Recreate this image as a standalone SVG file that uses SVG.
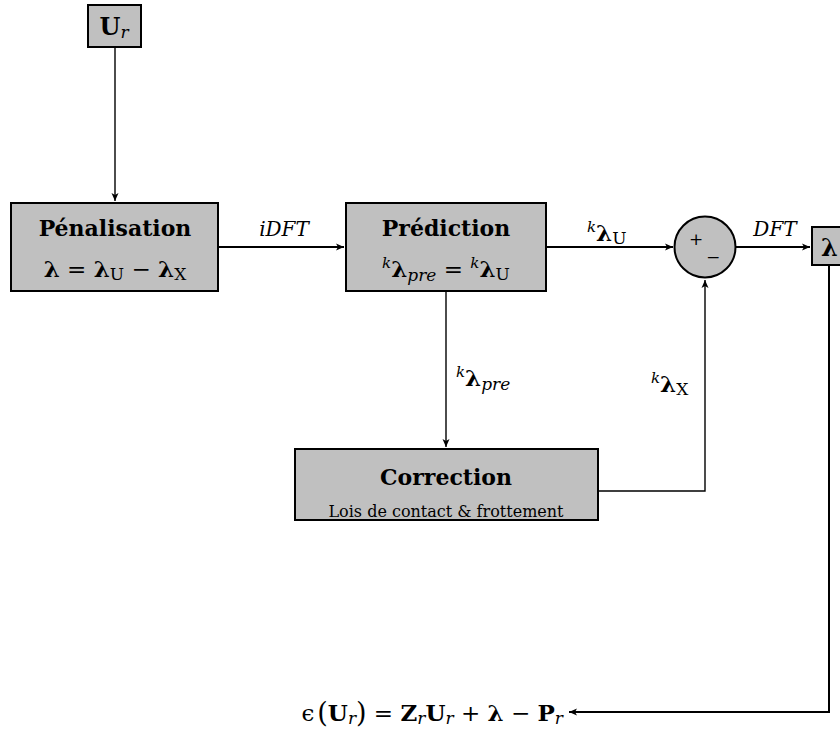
<svg xmlns="http://www.w3.org/2000/svg" width="840" height="729" viewBox="0 0 840 729">
<style>
.box{fill:#c0c0c0;stroke:#000;stroke-width:2}
.ln{fill:none;stroke:#000;stroke-width:2}
.lt{fill:none;stroke:#000;stroke-width:1.4}
text{font-family:"DejaVu Serif","Liberation Serif",serif;fill:#000}
.b{font-weight:bold}
.i{font-style:italic}
.t{font-size:22px;font-weight:bold}
.m{font-size:23px}
</style>
<defs>
<marker id="ar" markerWidth="10" markerHeight="8" refX="8" refY="4" orient="auto" markerUnits="userSpaceOnUse">
<path d="M0,0.5 L8,4 L0,7.5 L2,4 z" fill="#000"/>
</marker>
</defs>
<g id="connectors">
<line class="lt" x1="115" y1="47" x2="115" y2="201" marker-end="url(#ar)"/>
<line class="ln" x1="218" y1="247" x2="344" y2="247" marker-end="url(#ar)"/>
<line class="ln" x1="546" y1="247" x2="673" y2="247" marker-end="url(#ar)"/>
<line class="ln" x1="736" y1="247" x2="810" y2="247" marker-end="url(#ar)"/>
<line class="lt" x1="446" y1="291" x2="446" y2="447" marker-end="url(#ar)"/>
<polyline class="lt" points="598,491 705,491 705,280" marker-end="url(#ar)"/>
<polyline class="ln" points="829,265 829,712 569,712" marker-end="url(#ar)"/>
<text x="284" y="236" class="i" font-size="20" text-anchor="middle">iDFT</text>
<text x="587" y="241" font-size="23"><tspan font-size="15" dy="-9" font-style="italic">k</tspan><tspan class="b" dy="9">λ</tspan><tspan font-size="17" dy="3">U</tspan></text>
<text x="775" y="236" class="i" font-size="20" text-anchor="middle">DFT</text>
<text x="456" y="386" font-size="23"><tspan font-size="15" dy="-9" font-style="italic">k</tspan><tspan class="b" dy="9">λ</tspan><tspan font-size="17" dy="4" font-style="italic">pre</tspan></text>
<text x="651" y="392" font-size="23"><tspan font-size="15" dy="-9" font-style="italic">k</tspan><tspan class="b" dy="9">λ</tspan><tspan font-size="17" dy="3">X</tspan></text>
</g>
<g id="Ur">
<rect class="box" x="88" y="5" width="53" height="42"/>
<text x="114" y="35" font-size="24" text-anchor="middle"><tspan class="b">U</tspan><tspan class="i" font-size="17" dy="3">r</tspan></text>
</g>
<g id="penalisation">
<rect class="box" x="11" y="203" width="207" height="88"/>
<text x="115" y="236" class="t" text-anchor="middle">Pénalisation</text>
<text x="115" y="277" class="m" text-anchor="middle"><tspan class="b">λ</tspan> = <tspan class="b">λ</tspan><tspan font-size="17" dy="3">U</tspan><tspan dy="-3"> − </tspan><tspan class="b">λ</tspan><tspan font-size="17" dy="3">X</tspan></text>
</g>
<g id="prediction">
<rect class="box" x="346" y="203" width="200" height="88"/>
<text x="446" y="236" class="t" text-anchor="middle">Prédiction</text>
<text x="446" y="277" class="m" text-anchor="middle"><tspan font-size="15" dy="-9" class="i">k</tspan><tspan class="b" dy="9">λ</tspan><tspan font-size="17" dy="4" class="i">pre</tspan><tspan dy="-4"> = </tspan><tspan font-size="15" dy="-9" class="i">k</tspan><tspan class="b" dy="9">λ</tspan><tspan font-size="17" dy="3">U</tspan></text>
</g>
<g id="sum">
<circle cx="705" cy="247" r="30.5" fill="#c0c0c0" stroke="#000" stroke-width="2"/>
<text x="696" y="245" font-size="17" text-anchor="middle">+</text>
<text x="713" y="263" font-size="17" text-anchor="middle">−</text>
</g>
<g id="lambda">
<rect class="box" x="812" y="227" width="40" height="38"/>
<text x="821" y="256" font-size="24" class="b">λ</text>
</g>
<g id="correction">
<rect class="box" x="295" y="449" width="303" height="71"/>
<text x="446" y="485" class="t" text-anchor="middle">Correction</text>
<text x="446" y="517" font-size="16" text-anchor="middle">Lois de contact &amp; frottement</text>
</g>
<g id="residual">
<text x="563" y="721" font-size="23" text-anchor="end"><tspan>ϵ</tspan><tspan font-size="27" dx="3" dy="1">(</tspan><tspan class="b" dy="-1">U</tspan><tspan font-size="17" class="i" dy="3">r</tspan><tspan font-size="27" dy="-2">)</tspan><tspan dy="-1"> = </tspan><tspan class="b">Z</tspan><tspan font-size="17" class="i" dy="3">r</tspan><tspan class="b" dy="-3">U</tspan><tspan font-size="17" class="i" dy="3">r</tspan><tspan dy="-3"> + </tspan><tspan class="b">λ</tspan><tspan> − </tspan><tspan class="b">P</tspan><tspan font-size="17" class="i" dy="3">r</tspan></text>
</g>
</svg>
